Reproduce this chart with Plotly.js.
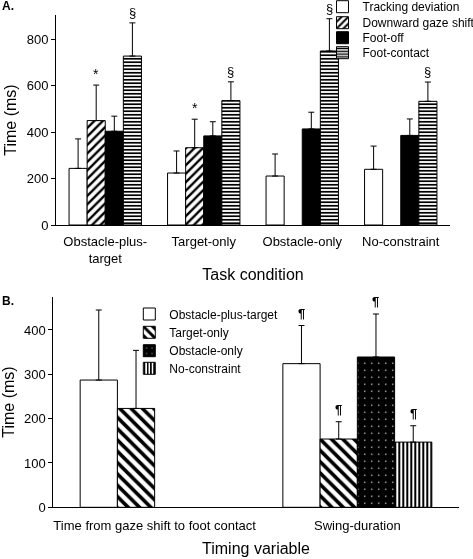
<!DOCTYPE html>
<html><head><meta charset="utf-8">
<script src="https://cdn.plot.ly/plotly-3.0.1.min.js"></script>
<style>html,body{margin:0;padding:0;background:#fff}#chart{width:473px;height:559px}svg.main-svg{will-change:transform}</style>
</head><body><div id="chart"></div>
<script>
// ---- Panel A data ----
const taskConditions = ['Obstacle-plus-target', 'Target-only', 'Obstacle-only', 'No-constraint'];
const taskTickLabels = ['Obstacle-plus-<br>target', 'Target-only', 'Obstacle-only', 'No-constraint'];
const trackingDeviation = [244, 224, 211, 240];
const trackingDeviationSD = [127, 95, 95, 100];
const downwardGazeShift = [450, 333, null, null];
const downwardGazeShiftSD = [153, 123, null, null];
const footOff = [404, 384, 414, 386];
const footOffSD = [65, 61, 72, 71];
const footContact = [728, 536, 750, 533];
const footContactSD = [143, 81, 139, 83];
const downwardGazeShiftMarks = ['*', '*', '', ''];
const footContactMarks = ['§', '§', '§', '§'];

// ---- Panel B data ----
const timingVariables = ['Time from gaze shift to foot contact', 'Swing-duration'];
const obstaclePlusTarget = [287, 324];
const obstaclePlusTargetSD = [158, 86];
const targetOnly = [223, 154];
const targetOnlySD = [131, 39];
const obstacleOnly = [null, 339];
const obstacleOnlySD = [null, 97];
const noConstraint = [null, 147];
const noConstraintSD = [null, 37];
const obstaclePlusTargetMarks = ['', '¶'];
const targetOnlyMarks = ['', '¶'];
const obstacleOnlyMarks = ['', '¶'];
const noConstraintMarks = ['', '¶'];

const W = 473, H = 559;
const FONT = '"Liberation Sans", Arial, Helvetica, sans-serif';
const BARGAP = 0.265;

function bar(name, x, y, sd, xa, ya, legend, color, pattern) {
  const t = {
    type: 'bar', name: name, x: x, y: y, xaxis: xa, yaxis: ya, legend: legend,
    marker: {color: color, line: {color: '#000', width: 1}},
    error_y: {type: 'data', array: sd, arrayminus: sd.map(() => 0), symmetric: false,
              color: '#000', thickness: 1, width: 3},
    hoverinfo: 'skip'
  };
  if (pattern) t.marker.pattern = pattern;
  return t;
}

const traces = [
  bar('Tracking deviation', taskConditions, trackingDeviation, trackingDeviationSD, 'x', 'y', 'legend', '#fff'),
  bar('Downward gaze shift', taskConditions, downwardGazeShift, downwardGazeShiftSD, 'x', 'y', 'legend2', '#fff',
      {shape: '/', fgcolor: '#000', bgcolor: '#fff', size: 6, solidity: 0.4, fillmode: 'replace'}),
  bar('Foot-off', taskConditions, footOff, footOffSD, 'x', 'y', 'legend3', '#000'),
  bar('Foot-contact', taskConditions, footContact, footContactSD, 'x', 'y', 'legend4', '#fff',
      {shape: '-', fgcolor: '#000', bgcolor: '#fff', size: 3.5, solidity: 0.5, fillmode: 'replace'}),
  bar('Obstacle-plus-target', timingVariables, obstaclePlusTarget, obstaclePlusTargetSD, 'x2', 'y2', 'legend5', '#fff'),
  bar('Target-only', timingVariables, targetOnly, targetOnlySD, 'x2', 'y2', 'legend6', '#fff',
      {shape: '\\', fgcolor: '#000', bgcolor: '#fff', size: 8, solidity: 0.45, fillmode: 'replace'}),
  bar('Obstacle-only', timingVariables, obstacleOnly, obstacleOnlySD, 'x2', 'y2', 'legend7', '#000',
      {shape: '.', fgcolor: '#fff', bgcolor: '#000', size: 7, solidity: 0.03, fillmode: 'replace'}),
  bar('No-constraint', timingVariables, noConstraint, noConstraintSD, 'x2', 'y2', 'legend8', '#fff',
      {shape: '|', fgcolor: '#000', bgcolor: '#fff', size: 4, solidity: 0.5, fillmode: 'replace'})
];

// significance marks above error bars
const annotations = [];
function addMarks(vals, sds, marks, idx, n, xref, yref, size, yshift, family, bold) {
  const gw = 1 - BARGAP, bw = gw / n;
  const off = -gw / 2 + bw * (idx + 0.5);
  marks.forEach((m, i) => {
    if (!m || vals[i] == null) return;
    annotations.push({x: i + off, y: vals[i] + sds[i], xref: xref, yref: yref,
      text: bold ? '<b>' + m + '</b>' : m,
      showarrow: false, yanchor: 'bottom', yshift: yshift,
      font: {family: family, size: size, color: '#000'}});
  });
}
addMarks(downwardGazeShift, downwardGazeShiftSD, downwardGazeShiftMarks, 1, 4, 'x', 'y', 14, 1, FONT, false);
addMarks(footContact, footContactSD, footContactMarks, 3, 4, 'x', 'y', 13, 1, FONT, false);
addMarks(obstaclePlusTarget, obstaclePlusTargetSD, obstaclePlusTargetMarks, 0, 4, 'x2', 'y2', 13, 3, FONT, true);
addMarks(targetOnly, targetOnlySD, targetOnlyMarks, 1, 4, 'x2', 'y2', 13, 3, FONT, true);
addMarks(obstacleOnly, obstacleOnlySD, obstacleOnlyMarks, 2, 4, 'x2', 'y2', 13, 3, FONT, true);
addMarks(noConstraint, noConstraintSD, noConstraintMarks, 3, 4, 'x2', 'y2', 13, 3, FONT, true);

annotations.push({x: 0, y: 1 - 6 / H, xref: 'paper', yref: 'paper', xanchor: 'left', yanchor: 'middle',
  text: '<b>A.</b>', showarrow: false, font: {family: FONT, size: 12, color: '#000'}});
annotations.push({x: 0, y: 1 - 301 / H, xref: 'paper', yref: 'paper', xanchor: 'left', yanchor: 'middle',
  text: '<b>B.</b>', showarrow: false, font: {family: FONT, size: 12, color: '#000'}});

function leg(xpx, ypx, size) {
  return {x: xpx / W, y: 1 - ypx / H, xanchor: 'left', yanchor: 'middle', bgcolor: 'rgba(0,0,0,0)',
    borderwidth: 0, font: {family: FONT, size: size, color: '#000'}, itemclick: false, itemdoubleclick: false};
}
const legTopX = 362.5 - 40, legBotX = 169.3 - 40;

const axisFont = {family: FONT, size: 13, color: '#000'};
const titleFont = {family: FONT, size: 16, color: '#000'};

const layout = {
  width: W, height: H,
  margin: {l: 0, r: 0, t: 0, b: 0, autoexpand: false},
  paper_bgcolor: '#fff', plot_bgcolor: 'rgba(0,0,0,0)',
  font: {family: FONT, color: '#000'},
  barmode: 'group', bargap: BARGAP, bargroupgap: 0,
  xaxis: {domain: [56 / W, 450 / W], anchor: 'y', type: 'category', range: [-0.5, 3.5],
    tickmode: 'array', tickvals: taskConditions, ticktext: taskTickLabels, ticks: '', ticklabelstandoff: 4,
    showline: true, linecolor: '#000', linewidth: 1, showgrid: false, zeroline: false, automargin: false,
    tickfont: axisFont, title: {text: 'Task condition', font: titleFont, standoff: 4}},
  yaxis: {domain: [1 - 225 / H, 1 - 15 / H], anchor: 'x', range: [0, 905],
    tickmode: 'array', tickvals: [0, 200, 400, 600, 800], ticks: 'outside', ticklen: 4, tickcolor: '#000',
    showline: true, linecolor: '#000', linewidth: 1, showgrid: false, zeroline: false, automargin: false,
    tickfont: axisFont, title: {text: 'Time (ms)', font: titleFont, standoff: 6}},
  xaxis2: {domain: [53.3 / W, 458.7 / W], anchor: 'y2', type: 'category', range: [-0.5, 1.5],
    ticks: '', ticklabelstandoff: 6,
    showline: true, linecolor: '#000', linewidth: 1, showgrid: false, zeroline: false, automargin: false,
    tickfont: axisFont, title: {text: 'Timing variable', font: titleFont, standoff: 10}},
  yaxis2: {domain: [1 - 507.3 / H, 1 - 296.7 / H], anchor: 'x2', range: [0, 475],
    tickmode: 'array', tickvals: [0, 100, 200, 300, 400], ticks: 'outside', ticklen: 4, tickcolor: '#000',
    showline: true, linecolor: '#000', linewidth: 1, showgrid: false, zeroline: false, automargin: false,
    tickfont: axisFont, title: {text: 'Time (ms)', font: titleFont, standoff: 6}},
  legend: leg(legTopX, 6.7, 12),
  legend2: leg(legTopX, 22.7, 12),
  legend3: leg(legTopX, 37.7, 12),
  legend4: leg(legTopX, 52.7, 12),
  legend5: leg(legBotX, 314, 12),
  legend6: leg(legBotX, 332.3, 12),
  legend7: leg(legBotX, 350.7, 12),
  legend8: leg(legBotX, 368.3, 12),
  annotations: annotations,
  showlegend: true
};

Plotly.newPlot('chart', traces, layout, {staticPlot: true, displayModeBar: false});
</script>
</body></html>
